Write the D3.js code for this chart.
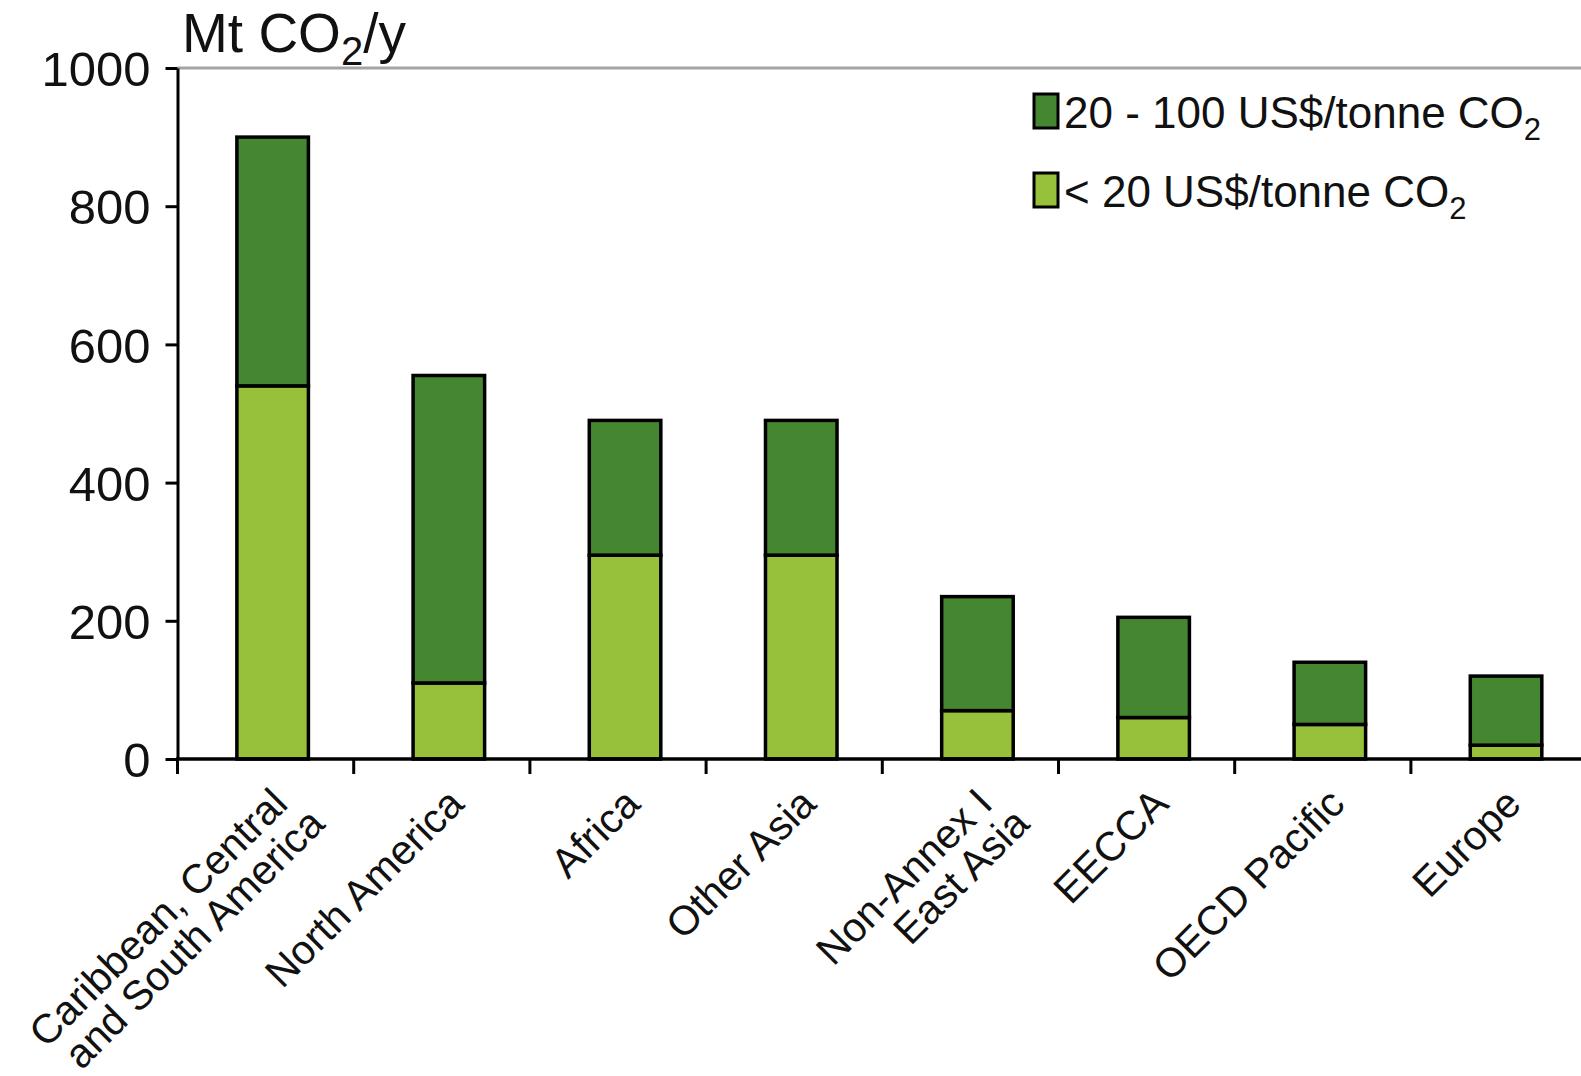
<!DOCTYPE html>
<html>
<head>
<meta charset="utf-8">
<script src="https://cdn.jsdelivr.net/npm/d3@7"></script>
<style>
body{margin:0;background:#fff;}
text{font-family:"Liberation Sans",Arial,sans-serif;fill:#111;}
</style>
</head>
<body>
<div id="chart"></div>
<script>
// data
var regions = ["Caribbean, Central|and South America","North America","Africa","Other Asia",
  "Non-Annex I|East Asia","EECCA","OECD Pacific","Europe"];
var below20 = [540,110,295,295,70,60,50,20];
var from20to100 = [360,445,195,195,165,145,90,100];
var yTicks = [0,200,400,600,800,1000];
var seriesNames = ["20 - 100 US$/tonne CO","< 20 US$/tonne CO"];

var colorDark = "#458631", colorLight = "#97c13b";

var width = 1581, height = 1076;
var left = 177.5, top_ = 68, bottom = 759;
var step = 176.2;

var svg = d3.select("#chart").append("svg")
  .attr("width", width).attr("height", height);

var table = regions.map(function(r, i){
  return {region: r, low: below20[i], high: from20to100[i]};
});

var x = d3.scaleBand().domain(regions).range([left, left + step*regions.length]).padding(0);
var y = d3.scaleLinear().domain([0,1000]).range([bottom, top_]);

var barOffset = step*0.337, barW = step*0.406;

// top grey frame line
svg.append("line")
  .attr("x1", left).attr("x2", width).attr("y1", y(1000)).attr("y2", y(1000))
  .style("stroke","#a3a3a3").style("stroke-width",3);

var stack = d3.stack().keys(["low","high"]);
var layers = stack(table);
var colors = {low: colorLight, high: colorDark};

svg.selectAll("g.layer").data(layers).enter().append("g")
  .attr("class","layer")
  .style("fill", function(d){ return colors[d.key]; })
  .selectAll("rect").data(function(d){ return d; }).enter().append("rect")
  .attr("x", function(d){ return x(d.data.region) + barOffset; })
  .attr("width", barW)
  .attr("y", function(d){ return y(d[1]); })
  .attr("height", function(d){ return y(d[0]) - y(d[1]); })
  .style("stroke","#000").style("stroke-width",3.5);

// y axis
var yAxis = svg.append("g")
  .attr("transform","translate(" + left + ",0)")
  .call(d3.axisLeft(y).tickValues(yTicks).tickFormat(d3.format("d"))
    .tickSize(12).tickSizeOuter(0).tickPadding(15));
yAxis.select(".domain").style("stroke","#000").style("stroke-width",3);
yAxis.selectAll(".tick line").style("stroke","#000").style("stroke-width",3);
yAxis.selectAll(".tick text").style("font-size","49px").style("fill","#111")
  .attr("font-family",null).attr("dy","0.36em");

// x axis line and ticks at band edges
svg.append("line")
  .attr("x1", left - 1.5).attr("x2", width).attr("y1", bottom).attr("y2", bottom)
  .style("stroke","#000").style("stroke-width",3.5);
svg.selectAll("line.xtick").data(regions).enter().append("line")
  .attr("class","xtick")
  .attr("x1", function(d){ return x(d); }).attr("x2", function(d){ return x(d); })
  .attr("y1", bottom).attr("y2", bottom + 15)
  .style("stroke","#000").style("stroke-width",3);

// rotated category labels
var lab = svg.selectAll("g.xlab").data(regions).enter().append("g")
  .attr("class","xlab")
  .attr("transform", function(d){
    var cx = x(d) + barOffset + barW/2;
    return "translate(" + (cx + 17) + "," + (bottom + 47) + ") rotate(-45)";
  });
lab.append("text")
  .attr("text-anchor","end")
  .style("font-size","41px")
  .selectAll("tspan").data(function(d){ return d.split("|"); }).enter().append("tspan")
  .attr("x", function(d,i){ return i*12; })
  .attr("dy", function(d,i){ return i === 0 ? 0 : "0.98em"; })
  .text(function(d){ return d; });

// axis title
var title = svg.append("text").attr("x", 182).attr("y", 52).style("font-size","55px");
title.append("tspan").text("Mt CO");
title.append("tspan").attr("dy", 13).style("font-size","40px").text("2");
title.append("tspan").attr("dy", -13).text("/y");

// legend
var legend = svg.selectAll("g.legend").data(seriesNames).enter().append("g")
  .attr("class","legend")
  .attr("transform", function(d,i){ return "translate(1034," + (94 + i*79) + ")"; });
legend.append("rect")
  .attr("width", 24).attr("height", 34)
  .style("fill", function(d,i){ return i === 0 ? colorDark : colorLight; })
  .style("stroke","#000").style("stroke-width",3);
var lt = legend.append("text").attr("x", 30).attr("y", 34).style("font-size","44px");
lt.append("tspan").text(function(d){ return d; });
lt.append("tspan").attr("dy", 12).style("font-size","31px").text("2");
</script>
</body>
</html>
